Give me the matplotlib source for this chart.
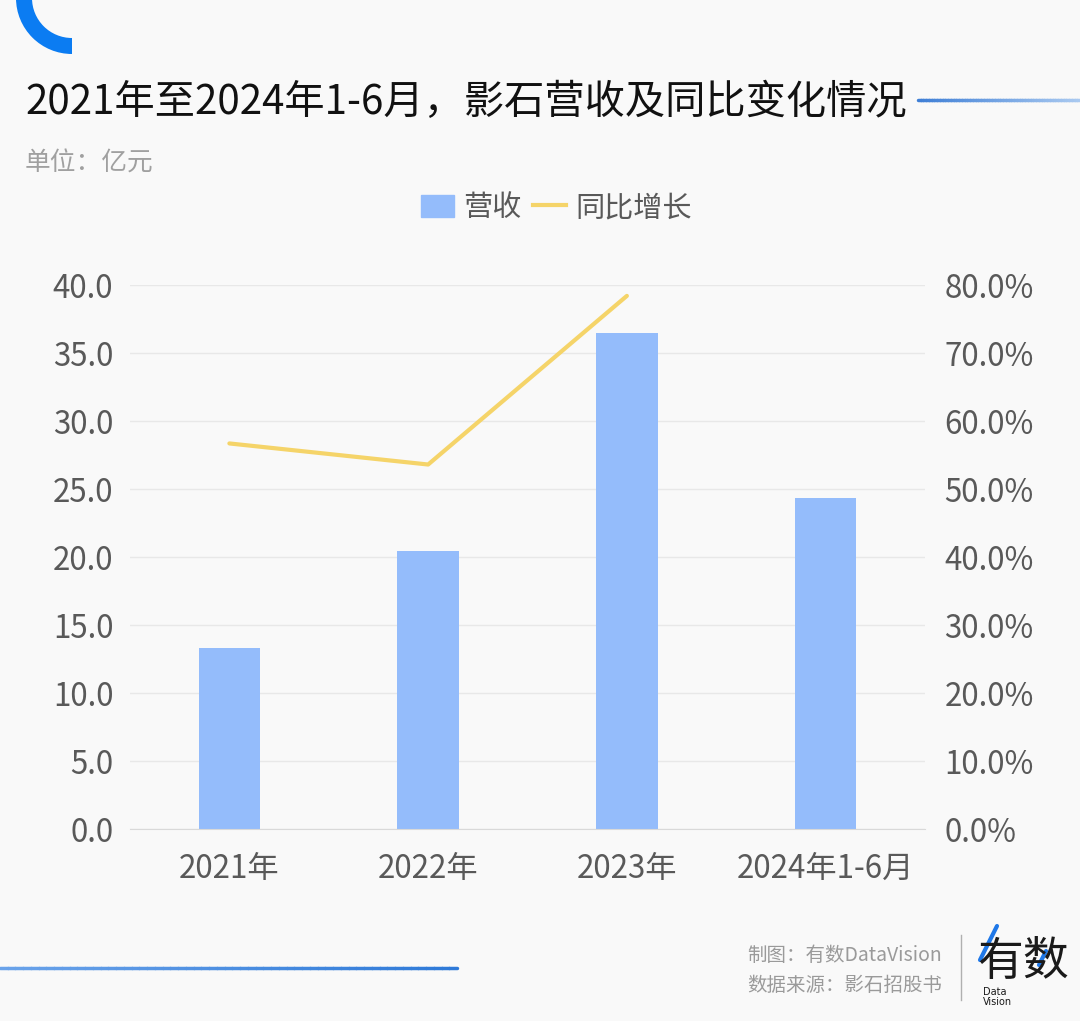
import numpy as np
import matplotlib.pyplot as plt
from matplotlib.patches import Wedge, Patch
from matplotlib.lines import Line2D
from matplotlib.collections import LineCollection
from matplotlib.ticker import FuncFormatter

plt.rcParams['font.family'] = ['Noto Sans CJK SC', 'DejaVu Sans']

# data
categories = ['2021年', '2022年', '2023年', '2024年1-6月']
revenue = [13.31, 20.44, 36.47, 24.36]      # 亿元
growth_years = ['2021年', '2022年', '2023年']
growth = [56.7, 53.6, 78.4]                 # %

W, H = 1080, 1021
bg = '#f9f9f9'
bar_color = '#94bcfb'
line_color = '#f5d469'
tick_color = '#595959'

fig = plt.figure(figsize=(W / 100, H / 100), dpi=100, facecolor=bg)

# overlay in pixel coordinates for decorations and texts
deco = fig.add_axes([0, 0, 1, 1])
deco.set_xlim(0, W)
deco.set_ylim(H, 0)
deco.axis('off')
deco.patch.set_alpha(0)

# top-left blue arc
deco.add_patch(Wedge((72, -2), 56, 90, 180, width=16, color='#0b7cf2', lw=0))


def grad_line(x0, x1, y, c0, c1, lw=2.5):
    xs = np.linspace(x0, x1, 60)
    segs = [[(xs[i], y), (xs[i + 1], y)] for i in range(len(xs) - 1)]
    c0 = np.array(plt.matplotlib.colors.to_rgb(c0))
    c1 = np.array(plt.matplotlib.colors.to_rgb(c1))
    cols = [c0 + (c1 - c0) * t for t in np.linspace(0, 1, len(segs))]
    deco.add_collection(LineCollection(segs, colors=cols, linewidths=lw, capstyle='round'))


grad_line(918, 1080, 100, '#3f7fd6', '#a9c9f0')
grad_line(0, 457, 968, '#6aa3ea', '#2f7ad8')

# title and unit
deco.text(25, 102, '2021年至2024年1-6月，影石营收及同比变化情况', fontsize=29,
          fontweight='medium', color='#111111', va='center', ha='left')
deco.text(25, 164, '单位：亿元', fontsize=18.5, color='#a0a0a0', va='center', ha='left')

# footer
deco.text(942, 955, '制图：有数DataVision', fontsize=14, color='#9a9a9a', va='center', ha='right')
deco.text(942, 985, '数据来源：影石招股书', fontsize=14, color='#9a9a9a', va='center', ha='right')
deco.plot([961, 961], [935, 1000], color='#b0b0b0', lw=1)
deco.text(977, 962, '有数', fontsize=33, color='#1a1a1a', va='center', ha='left')
deco.text(983, 997, 'Data\nVision', fontsize=7, color='#1a1a1a', va='center', ha='left',
          linespacing=0.9, family='DejaVu Sans')
deco.plot([997, 980], [926, 960], color='#1f78e8', lw=3, solid_capstyle='round')
deco.plot([1046, 1039], [951, 965], color='#1f78e8', lw=3, solid_capstyle='round')

# main chart
ax = fig.add_axes([130 / W, 1 - 829 / H, 795 / W, 544 / H])
ax.set_facecolor('none')
x = np.arange(len(categories))
ax.bar(x, revenue, width=0.31, color=bar_color, zorder=2)
ax.set_xlim(-0.5, len(categories) - 0.5)
ax.set_ylim(0, 40)
ax.set_yticks(np.arange(0, 41, 5))
ax.yaxis.set_major_formatter(FuncFormatter(lambda v, p: f'{v:.1f}'))
ax.set_xticks(x)
ax.set_xticklabels(categories)
ax.grid(axis='y', color='#e8e8e8', lw=1, zorder=0)
for s in ['top', 'left', 'right']:
    ax.spines[s].set_visible(False)
ax.spines['bottom'].set_color('#d9d9d9')
ax.tick_params(axis='both', length=0, labelsize=22.5, colors=tick_color)
ax.tick_params(axis='x', pad=17)
ax.tick_params(axis='y', pad=12)

ax2 = ax.twinx()
gx = [categories.index(c) for c in growth_years]
ax2.plot(gx, growth, color=line_color, lw=3, zorder=3, solid_capstyle='round')
ax2.set_ylim(0, 80)
ax2.set_yticks(np.arange(0, 81, 10))
ax2.yaxis.set_major_formatter(FuncFormatter(lambda v, p: f'{v:.1f}%'))
for s in ax2.spines.values():
    s.set_visible(False)
ax2.tick_params(axis='y', length=0, labelsize=22.5, colors=tick_color, pad=14)

handles = [Patch(color=bar_color), Line2D([0], [0], color=line_color, lw=3)]
fig.legend(handles, ['营收', '同比增长'], loc='center', bbox_to_anchor=(556 / W, 1 - 208 / H),
           ncol=2, frameon=False, fontsize=21, labelcolor=tick_color,
           handlelength=1.15, handleheight=0.8, handletextpad=0.3, columnspacing=0.4)

fig.savefig('out.png', dpi=100, facecolor=bg)
